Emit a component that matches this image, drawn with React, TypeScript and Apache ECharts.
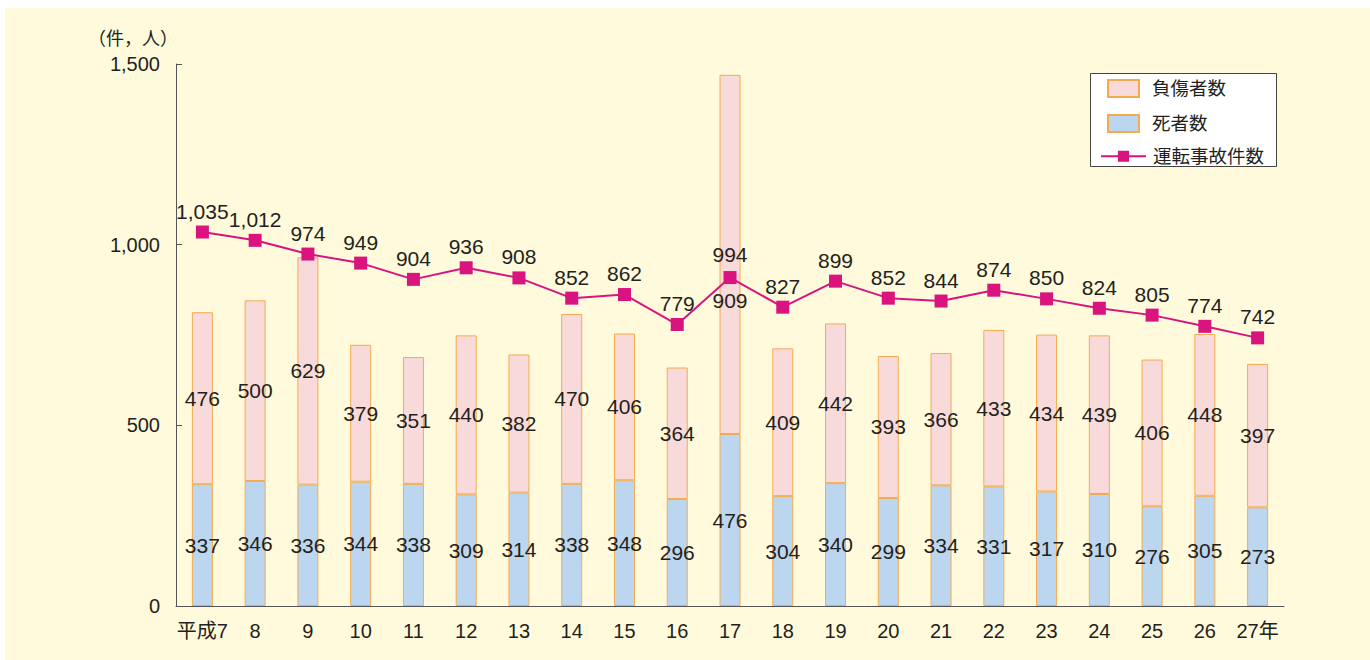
import React, { useEffect, useRef } from "react";
import * as echarts from "echarts";

const categories = ["平成7", "8", "9", "10", "11", "12", "13", "14", "15", "16", "17", "18", "19", "20", "21", "22", "23", "24", "25", "26", "27年"];
const deaths = [337, 346, 336, 344, 338, 309, 314, 338, 348, 296, 476, 304, 340, 299, 334, 331, 317, 310, 276, 305, 273];
const injuries = [476, 500, 629, 379, 351, 440, 382, 470, 406, 364, 994, 409, 442, 393, 366, 433, 434, 439, 406, 448, 397];
const accidents = [1035, 1012, 974, 949, 904, 936, 908, 852, 862, 779, 909, 827, 899, 852, 844, 874, 850, 824, 805, 774, 742];

const FONT = "'Liberation Sans', 'Noto Sans CJK JP', sans-serif";
const TEXT = "#231f20";

export default function App() {
  const ref = useRef<HTMLDivElement>(null);
  useEffect(() => {
    document.body.style.margin = "0";
    const chart = echarts.init(ref.current!, undefined, { renderer: "svg" });
    const fmt = (v: number) => v.toLocaleString("en-US");
    chart.setOption({
      animation: false,
      backgroundColor: "#ffffff",
      textStyle: { fontFamily: FONT, color: TEXT },
      graphic: [
        { type: "rect", left: 5, top: 8, shape: { width: 1365, height: 652 }, style: { fill: "#fffadc" }, z: -10 },
        { type: "rect", left: 1090, top: 73, shape: { width: 186, height: 93 }, style: { fill: "#ffffff", stroke: "#444", lineWidth: 1 }, z: 0 },
      ],
      grid: { left: 176, right: 86, top: 64, bottom: 54, containLabel: false },
      legend: [
        {
          data: [
            { name: "負傷者数", icon: "rect" },
            { name: "死者数", icon: "rect" },
          ],
          orient: "vertical",
          left: 1102,
          top: 74,
          itemWidth: 31,
          itemHeight: 17,
          itemGap: 16,
          textStyle: { fontSize: 18.5, color: TEXT, fontFamily: FONT, padding: [0, 0, 0, 8] },
          z: 5,
        },
        {
          data: ["運転事故件数"],
          orient: "vertical",
          left: 1095,
          top: 142,
          itemWidth: 45,
          itemHeight: 14,
          itemGap: 4,
          textStyle: { fontSize: 18.5, color: TEXT, fontFamily: FONT, padding: [0, 0, 0, 2] },
          z: 5,
        },
      ],
      xAxis: {
        type: "category",
        data: categories,
        boundaryGap: true,
        axisLine: { lineStyle: { color: "#555", width: 1 } },
        axisTick: { inside: true, length: 6, lineStyle: { color: "#555" } },
        axisLabel: { fontSize: 20, color: TEXT, margin: 15, fontFamily: FONT, interval: 0 },
      },
      yAxis: {
        type: "value",
        min: 0,
        max: 1500,
        interval: 500,
        name: "（件，人）",
        nameLocation: "end",
        nameGap: 16,
        nameTextStyle: { fontSize: 18, color: TEXT, align: "right", fontFamily: FONT, padding: [0, -2, 0, 0] },
        splitLine: { show: false },
        axisLine: { show: true, lineStyle: { color: "#555", width: 1 } },
        axisTick: { show: true, inside: true, length: 6, lineStyle: { color: "#555" } },
        axisLabel: { fontSize: 20, color: TEXT, margin: 16, fontFamily: FONT, formatter: (v: number) => fmt(v) },
      },
      series: [
        {
          name: "死者数",
          type: "bar",
          stack: "total",
          data: deaths,
          barWidth: 21,
          itemStyle: { color: "#bcd6ef", borderColor: "#f4ab4e", borderWidth: 1 },
          label: { show: true, position: "inside", fontSize: 21, color: TEXT, fontFamily: FONT },
          z: 2,
        },
        {
          name: "負傷者数",
          type: "bar",
          stack: "total",
          data: injuries,
          barWidth: 21,
          itemStyle: { color: "#f9dada", borderColor: "#f4ab4e", borderWidth: 1 },
          label: { show: true, position: "inside", fontSize: 21, color: TEXT, fontFamily: FONT },
          z: 2,
        },
        {
          name: "運転事故件数",
          type: "line",
          data: accidents.map((v, i) =>
            i === 10 ? { value: v, label: { position: "bottom", distance: 6 } } : v
          ),
          symbol: "rect",
          symbolSize: 13,
          lineStyle: { color: "#d9147e", width: 2 },
          itemStyle: { color: "#d9147e" },
          label: {
            show: true,
            position: "top",
            distance: 4,
            fontSize: 21,
            color: TEXT,
            fontFamily: FONT,
            formatter: (p: any) => fmt(p.value),
          },
          z: 3,
        },
      ],
    });
    return () => chart.dispose();
  }, []);
  return <div ref={ref} style={{ position: "absolute", left: 0, top: 0, width: 1370, height: 660 }} />;
}
